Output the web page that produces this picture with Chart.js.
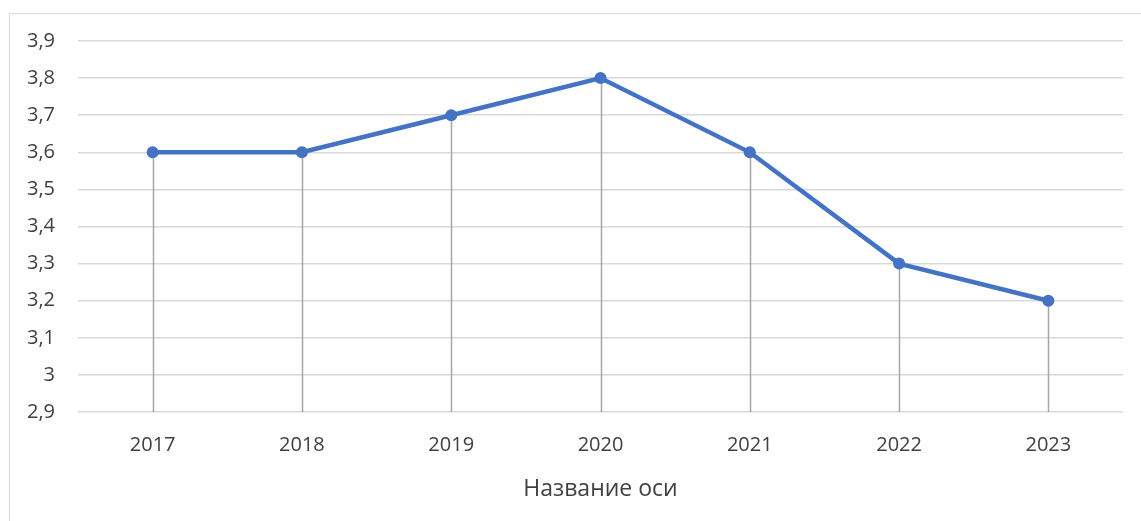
<!DOCTYPE html>
<html>
<head>
<meta charset="utf-8">
<script src="https://cdn.jsdelivr.net/npm/chart.js@4/dist/chart.umd.min.js"></script>
<style>
  html, body { margin: 0; padding: 0; background: #fff; overflow: hidden; }
  #frame {
    position: absolute; left: 9px; top: 13px; width: 1200px; height: 600px;
    border: 1.5px solid #d9d9d9; box-sizing: border-box;
  }
  #wrap { position: absolute; left: 0; top: 0; width: 1141px; height: 521px; }
</style>
</head>
<body>
<div id="frame"></div>
<div id="wrap"><canvas id="chart" width="1141" height="521"></canvas></div>
<script>
const years = ["2017", "2018", "2019", "2020", "2021", "2022", "2023"];
const values = [3.6, 3.6, 3.7, 3.8, 3.6, 3.3, 3.2];
const yMin = 2.9;
const yMax = 3.9;
const yStep = 0.1;
const xTitle = "Название оси";

const textColor = "#404040";
const fontFamily = "'Open Sans', 'Noto Sans', sans-serif";

// vertical drop lines from each point down to the bottom of the plot
const dropLines = {
  id: "dropLines",
  beforeDatasetsDraw(chart) {
    const { ctx, chartArea } = chart;
    const meta = chart.getDatasetMeta(0);
    ctx.save();
    ctx.strokeStyle = "#a6a6a6";
    ctx.lineWidth = 1.5;
    meta.data.forEach(pt => {
      ctx.beginPath();
      ctx.moveTo(Math.round(pt.x) + 0.5, pt.y);
      ctx.lineTo(Math.round(pt.x) + 0.5, chartArea.bottom);
      ctx.stroke();
    });
    ctx.restore();
  }
};

new Chart(document.getElementById("chart"), {
  type: "line",
  data: {
    labels: years,
    datasets: [{
      data: values,
      borderColor: "#4472c4",
      backgroundColor: "#4472c4",
      borderWidth: 4.5,
      pointRadius: 6,
      pointHoverRadius: 6,
      pointBorderWidth: 0,
      tension: 0
    }]
  },
  options: {
    responsive: false,
    animation: false,
    layout: { padding: { left: 0, right: 18, top: 41, bottom: 0 } },
    plugins: { legend: { display: false }, tooltip: { enabled: false } },
    scales: {
      x: {
        offset: true,
        grid: { display: false, drawTicks: false },
        border: { display: false },
        ticks: { color: textColor, font: { family: fontFamily, size: 20 }, padding: 21 },
        title: {
          display: true,
          text: xTitle,
          color: textColor,
          font: { family: fontFamily, size: 23 },
          padding: { top: 0, bottom: 18 }
        },
        afterFit(scale) { scale.height = 109; }
      },
      y: {
        min: yMin,
        max: yMax,
        grid: { color: "#d9d9d9", lineWidth: 1.5, drawTicks: false },
        border: { display: false },
        ticks: {
          stepSize: yStep,
          color: textColor,
          font: { family: fontFamily, size: 20 },
          padding: 23,
          callback: v => String(Math.round(v * 10) / 10).replace(".", ",")
        },
        afterFit(scale) { scale.width = 78; }
      }
    }
  },
  plugins: [dropLines]
});
</script>
</body>
</html>
